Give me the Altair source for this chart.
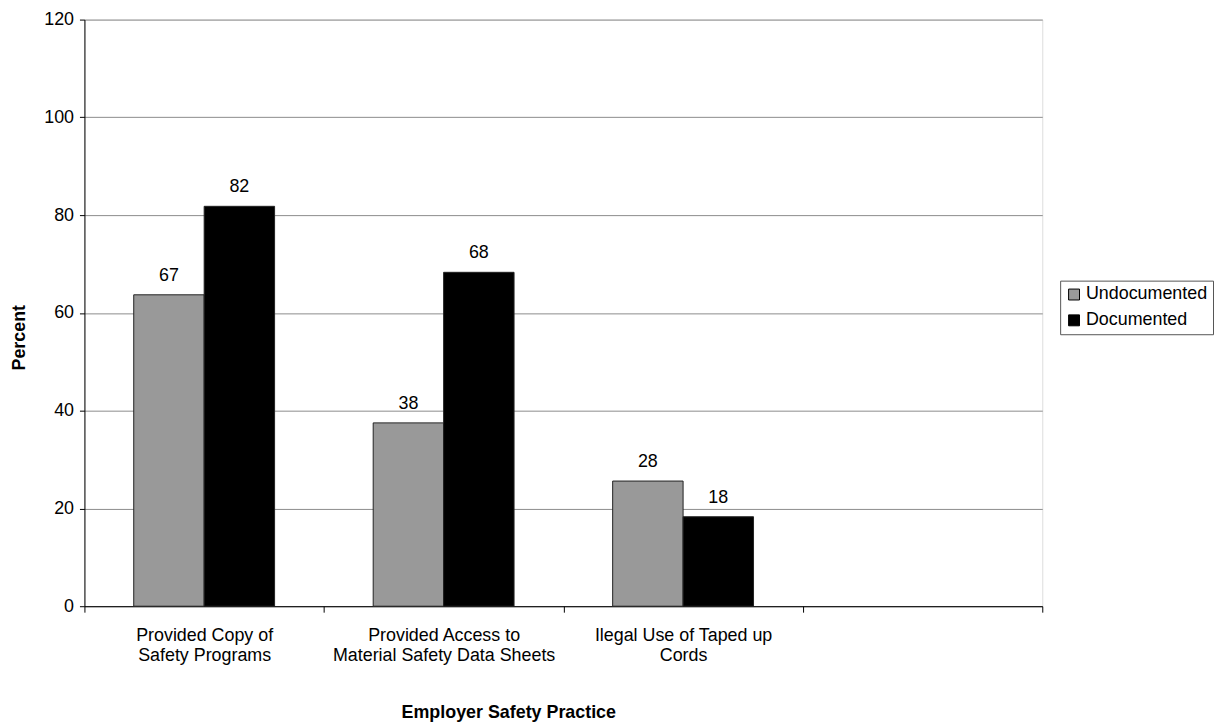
import altair as alt
import pandas as pd

categories = ["Provided Copy of|Safety Programs",
              "Provided Access to|Material Safety Data Sheets",
              "Ilegal Use of Taped up|Cords",
              " "]
series = ["Undocumented", "Documented"]
undocumented_bar = [63.7, 37.5, 25.6]
documented_bar = [81.8, 68.3, 18.3]
undocumented_label = ["67", "38", "28"]
documented_label = ["82", "68", "18"]

rows = []
for i in range(3):
    rows.append({"cat": categories[i], "series": "Undocumented",
                 "value": undocumented_bar[i], "label": undocumented_label[i]})
    rows.append({"cat": categories[i], "series": "Documented",
                 "value": documented_bar[i], "label": documented_label[i]})
df = pd.DataFrame(rows)

FONT = "Liberation Sans"
FS = 18

x = alt.X("cat:N",
          scale=alt.Scale(domain=categories, paddingInner=0, paddingOuter=0, round=False),
          axis=alt.Axis(title="Employer Safety Practice", tickBand="extent",
                        labelExpr="datum.value ? split(datum.value, '|') : ''",
                        labelAngle=0, labelLimit=0,
                        labelFont=FONT, labelFontSize=FS, labelColor="black",
                        labelLineHeight=20, labelPadding=15, labelBaseline="top",
                        tickSize=6, tickColor="black", domainColor="black",
                        titleFont=FONT, titleFontSize=FS, titleFontWeight="bold",
                        titleColor="black", titleX=427, titleY=107,
                        titleBaseline="middle", titleAnchor="middle"))
xoff = alt.XOffset("series:N",
                   scale=alt.Scale(domain=series, paddingInner=0, paddingOuter=0.7, round=False))
y = alt.Y("value:Q",
          scale=alt.Scale(domain=[0, 120], nice=False),
          axis=alt.Axis(title="Percent", values=[0, 20, 40, 60, 80, 100, 120],
                        labelFont=FONT, labelFontSize=FS, labelColor="black",
                        labelPadding=6, tickSize=5, tickColor="black",
                        domainColor="black", gridColor="#8c8c8c", gridWidth=1,
                        titleFont=FONT, titleFontSize=FS, titleFontWeight="bold",
                        titleColor="black", titleX=-65, titleY=320,
                        titleBaseline="middle", titleAnchor="middle"))
color = alt.Color("series:N",
                  scale=alt.Scale(domain=series, range=["#999999", "#000000"]),
                  legend=alt.Legend(title=None, orient="none", legendX=983, legendY=263,
                                    symbolType="square", symbolSize=121,
                                    symbolStrokeColor="black", symbolStrokeWidth=1,
                                    labelFont=FONT, labelFontSize=FS, labelColor="black",
                                    labelOffset=3, rowPadding=8, padding=5,
                                    strokeColor="#555555"))

bars = alt.Chart(df).mark_bar(stroke="#222222", strokeWidth=1).encode(
    x=x, xOffset=xoff, y=y, color=color)

labels = alt.Chart(df).mark_text(font=FONT, fontSize=FS, color="black",
                                 baseline="middle", dy=-19).encode(
    x=x, xOffset=xoff, y=y, text="label:N")

chart = (bars + labels).properties(
    width=965, height=591,
    padding={"left": 3, "top": 0, "right": 0, "bottom": 0}
).configure_view(
    stroke="#8c8c8c", strokeWidth=1
).configure(background="white")

chart.save("out.html", embed_options={"renderer": "svg", "actions": False})
